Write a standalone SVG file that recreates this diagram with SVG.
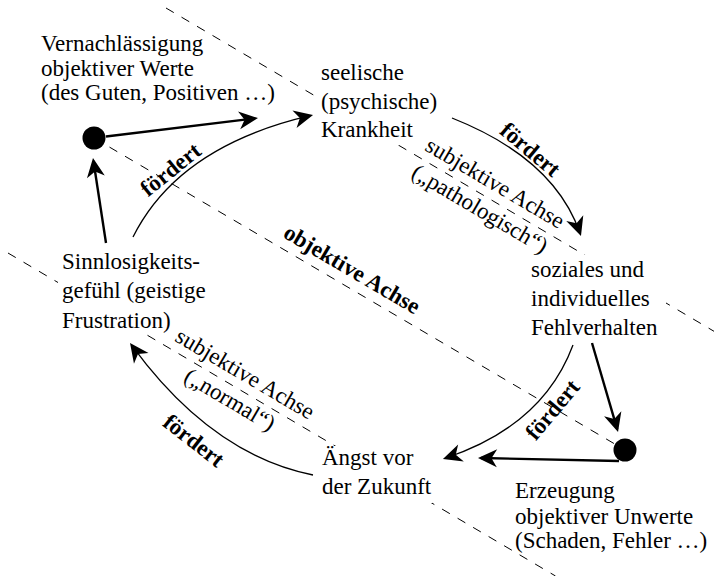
<svg xmlns="http://www.w3.org/2000/svg" width="714" height="576" viewBox="0 0 714 576">
<defs>
<style>
text{font-family:"Liberation Serif","Times New Roman",serif;font-size:23px;fill:#000}
.b{font-weight:bold}
.axis{fill:none;stroke:#000;stroke-width:1;stroke-dasharray:9 9}
.thick{fill:none;stroke:#000;stroke-width:2.4}
.thin{fill:none;stroke:#000;stroke-width:1.3}
.mask{fill:#fff}
</style>
<marker id="ah" markerUnits="userSpaceOnUse" viewBox="-20 -10 22 20" markerWidth="22" markerHeight="20" refX="-3" refY="0" orient="auto">
<path d="M0,0 L-19,-9 L-13.5,0 L-19,9 Z" fill="#000"/>
</marker>
</defs>
<rect width="714" height="576" fill="#fff"/>
<g id="axes">
<path class="axis" d="M166,8 L714,331.3"/>
<path class="axis" d="M94,138 L625,450"/>
<path class="axis" d="M8,253 L555.5,576"/>
</g>
<g id="n-vernachlaessigung">
<text x="41" y="51">Vernachlässigung</text>
<text x="41" y="76">objektiver Werte</text>
<text x="41" y="100">(des Guten, Positiven …)</text>
</g>
<g id="n-krankheit">
<rect class="mask" x="316" y="60" width="124" height="85"/>
<text x="321" y="80">seelische</text>
<text x="321" y="108.5">(psychische)</text>
<text x="321" y="137">Krankheit</text>
</g>
<g id="n-fehlverhalten">
<rect class="mask" x="526" y="255" width="140" height="88"/>
<text x="531" y="277">soziales und</text>
<text x="531" y="306">individuelles</text>
<text x="531" y="335">Fehlverhalten</text>
</g>
<g id="n-sinnlosigkeit">
<rect class="mask" x="58" y="250" width="152" height="83"/>
<text x="62" y="268.5">Sinnlosigkeits-</text>
<text x="62" y="298">gefühl (geistige</text>
<text x="62" y="327.5">Frustration)</text>
</g>
<g id="n-angst">
<rect class="mask" x="316" y="446" width="116" height="57"/>
<text x="322" y="465">Ängst vor</text>
<text x="322" y="494">der Zukunft</text>
</g>
<g id="n-erzeugung">
<text x="515" y="498">Erzeugung</text>
<text x="515" y="523.5">objektiver Unwerte</text>
<text x="515" y="548">(Schaden, Fehler …)</text>
</g>
<g id="dot-1"><circle cx="94" cy="138" r="11.5" fill="#000"/></g>
<g id="dot-2"><circle cx="625" cy="450" r="11.5" fill="#000"/></g>
<g id="connectors">
<path class="thick" d="M106,136.5 L255,118.4" marker-end="url(#ah)"/>
<path class="thick" d="M106,243 L93.45,161" marker-end="url(#ah)"/>
<path class="thick" d="M592,343 L617.2,429.1" marker-end="url(#ah)"/>
<path class="thick" d="M619,461 L481,458" marker-end="url(#ah)"/>
<path class="thin" d="M133,237 Q178.3,146.4 310.1,115.7" marker-end="url(#ah)"/>
<path class="thin" d="M452,118 Q554.2,158.5 580,233.2" marker-end="url(#ah)"/>
<path class="thin" d="M573,345 Q543,425.6 445.8,458" marker-end="url(#ah)"/>
<path class="thin" d="M313,475 Q211.6,454.7 131.8,345.4" marker-end="url(#ah)"/>
</g>
<g id="labels" text-anchor="middle">
<text class="b" transform="translate(171,170) rotate(-39)" x="0" y="7">fördert</text>
<text class="b" transform="translate(530,150) rotate(40)" x="0" y="7">fördert</text>
<text class="b" transform="translate(553,410) rotate(-50)" x="0" y="7">fördert</text>
<text class="b" transform="translate(193.5,441) rotate(38)" x="0" y="7">fördert</text>
<text class="b" transform="translate(343.2,284.4) rotate(30.44)" x="0" y="-10">objektive Achse</text>
<g transform="translate(486.7,197.2) rotate(30.5)">
<text x="0" y="-9">subjektive Achse</text>
<text x="0" y="21">(„pathologisch“)</text>
</g>
<g transform="translate(236.7,388) rotate(30.5)">
<text x="0" y="-9">subjektive Achse</text>
<text x="0" y="21">(„normal“)</text>
</g>
</g>
</svg>
